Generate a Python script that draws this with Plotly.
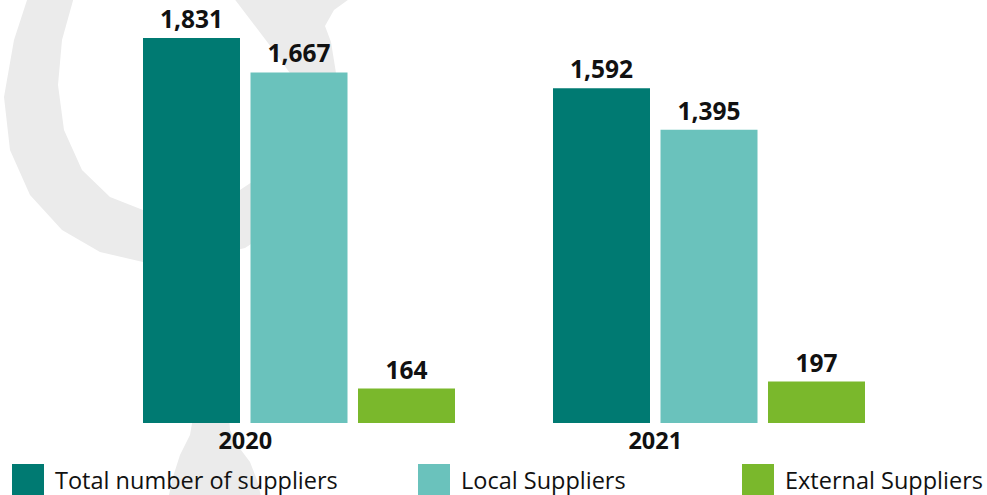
import plotly.graph_objects as go

# --- data -------------------------------------------------------------
years = ["2020", "2021"]
series_names = ["Total number of suppliers", "Local Suppliers", "External Suppliers"]
total_suppliers = [1831, 1592]
local_suppliers = [1667, 1395]
external_suppliers = [164, 197]
series_colors = ["#007A72", "#6AC2BC", "#7AB82C"]

series_values = [total_suppliers, local_suppliers, external_suppliers]

# --- geometry of the canvas -------------------------------------------
W, H = 987, 495
PLOT_BOTTOM = 423          # pixel row of the bar baseline
BARGAP = 0.2134
BARGROUPGAP = 0.0977
FONT = "Open Sans"
WATERMARK = "#EBEBEB"


def px(x):
    """pixel column -> paper x"""
    return x / W


def py(y):
    """pixel row -> paper y (plot area spans rows 0..PLOT_BOTTOM)"""
    return (PLOT_BOTTOM - y) / PLOT_BOTTOM


def poly_path(points):
    return "M " + " L ".join(f"{px(x):.5f},{py(y):.5f}" for x, y in points) + " Z"


fig = go.Figure()

x_pos = list(range(len(years)))
for name, vals, color in zip(series_names, series_values, series_colors):
    fig.add_trace(go.Bar(
        x=x_pos, y=vals, name=name,
        marker=dict(color=color, line=dict(width=0)),
        texttemplate="%{y:,}", textposition="outside",
        textfont=dict(family=FONT, size=24.5, color="#111111", weight="bold"),
        cliponaxis=False, showlegend=False,
        hoverinfo="skip",
    ))

# light grey decorative ring (with a stem) in the background
ring = [
    (28, -3), (14, 40), (4, 97), (10, 150), (30, 195), (62, 230), (100, 252),
    (143, 262), (195, 260), (245, 248), (280, 225), (315, 180), (335, 120),
    (336, 73), (331, 42), (325, 26), (334, 10), (352, -3),
    (233, -3), (268, 43), (295, 80), (290, 130), (252, 182), (240, 190),
    (190, 207), (143, 210), (110, 197), (82, 170), (64, 130), (58, 85),
    (62, 40), (74, -3),
]
stem = [
    (196, 400), (228, 400), (230, 430), (238, 446), (250, 462), (257, 480),
    (262, 500), (168, 500), (172, 480), (180, 455), (190, 435),
]
shapes = [
    dict(type="path", path=poly_path(ring), xref="paper", yref="paper",
         fillcolor=WATERMARK, line=dict(width=0), layer="below"),
    dict(type="path", path=poly_path(stem), xref="paper", yref="paper",
         fillcolor=WATERMARK, line=dict(width=0), layer="below"),
]

# legend: large square swatches with labels along the bottom
legend_x = [12, 418, 742]
annotations = []
for lx, name, color in zip(legend_x, series_names, series_colors):
    shapes.append(dict(type="rect", xref="paper", yref="paper",
                       x0=px(lx), x1=px(lx + 32), y0=py(464), y1=py(496),
                       fillcolor=color, line=dict(width=0)))
    annotations.append(dict(text=name, xref="paper", yref="paper",
                            x=px(lx + 41), y=py(480), xanchor="left", yanchor="middle",
                            showarrow=False,
                            font=dict(family=FONT, size=23.5, color="#111111")))

# year labels sit under the gap between the first two bars of each group
label_shift = -(1 - BARGAP) / len(series_names) / 2

# x axis: category 0 at pixel 299, spacing 410 px
unit = 410
x0_px = 299
fig.update_layout(
    width=W, height=H,
    margin=dict(l=0, r=0, t=0, b=H - PLOT_BOTTOM, pad=0),
    paper_bgcolor="white", plot_bgcolor="rgba(0,0,0,0)",
    barmode="group", bargap=BARGAP, bargroupgap=BARGROUPGAP,
    xaxis=dict(range=[-x0_px / unit, (W - x0_px) / unit],
               tickvals=[i + label_shift for i in x_pos], ticktext=years,
               tickfont=dict(family=FONT, size=23.5, color="#111111", weight="bold"),
               ticklabelstandoff=1,
               showgrid=False, zeroline=False, showline=False, ticks=""),
    yaxis=dict(range=[0, PLOT_BOTTOM * max(total_suppliers) / (PLOT_BOTTOM - 38)],
               visible=False, showgrid=False, zeroline=False),
    shapes=shapes, annotations=annotations,
    showlegend=False,
)

fig.write_html("out.html")
